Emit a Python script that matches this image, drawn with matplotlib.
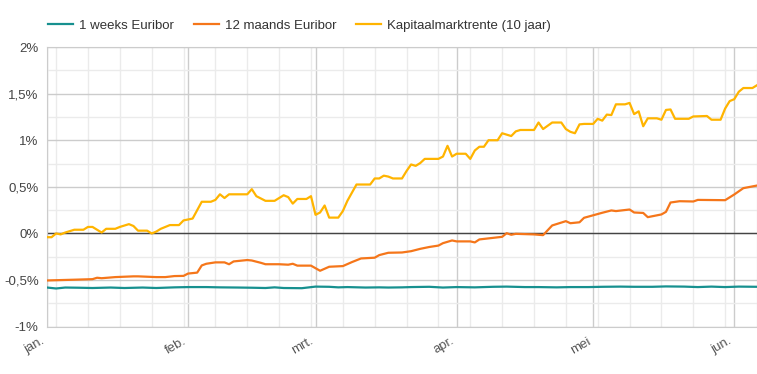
import numpy as np
import matplotlib
matplotlib.use("Agg")
import matplotlib.pyplot as plt
import matplotlib.dates as mdates
from matplotlib.ticker import MultipleLocator, FuncFormatter

plt.rcParams['font.family'] = ['Liberation Sans', 'DejaVu Sans']

START = np.datetime64('2022-01-01')

# Days since 1 January 2022 and rate in %
week_days = [0, 2, 4, 7, 10, 14, 17, 21, 24, 28, 31, 35, 38, 42, 45, 48, 50,
             52, 56, 59, 62, 64, 66, 70, 73, 75, 78, 80, 84, 87, 90, 94, 98,
             101, 105, 108, 112, 115, 119, 122, 126, 129, 133, 136, 140, 143,
             146, 149, 152, 156]
week_vals = [-0.58, -0.59, -0.58, -0.582, -0.585, -0.58, -0.585, -0.58,
             -0.585, -0.578, -0.575, -0.575, -0.578, -0.58, -0.582, -0.585,
             -0.578, -0.585, -0.587, -0.57, -0.572, -0.578, -0.575, -0.58,
             -0.578, -0.58, -0.578, -0.575, -0.572, -0.58, -0.575, -0.578,
             -0.572, -0.57, -0.575, -0.575, -0.578, -0.575, -0.575, -0.572,
             -0.57, -0.572, -0.572, -0.568, -0.57, -0.575, -0.57, -0.575,
             -0.57, -0.572]

m12_days = [0, 3, 6, 10, 11, 12, 15, 19, 20, 24, 26, 28, 30, 31, 33, 34, 35,
            37, 39, 40, 41, 44, 45, 47, 48, 51, 53, 54, 55, 58, 60, 62, 65,
            67, 69, 72, 73, 75, 78, 80, 82, 84, 86, 87, 89, 90, 93, 94, 95,
            100, 101, 102, 103, 107, 109, 111, 114, 115, 117, 118, 122, 124,
            125, 128, 129, 131, 132, 135, 136, 137, 139, 142, 143, 149, 151,
            153, 156]
m12_vals = [-0.504, -0.50, -0.496, -0.49, -0.475, -0.48, -0.468, -0.46,
            -0.46, -0.468, -0.468, -0.457, -0.455, -0.43, -0.42, -0.343,
            -0.325, -0.31, -0.31, -0.33, -0.30, -0.285, -0.29, -0.315, -0.33,
            -0.33, -0.335, -0.325, -0.345, -0.345, -0.40, -0.357, -0.35,
            -0.307, -0.268, -0.26, -0.232, -0.207, -0.204, -0.19, -0.165,
            -0.145, -0.13, -0.104, -0.075, -0.085, -0.085, -0.096, -0.064,
            -0.036, 0.003, -0.014, -0.004, -0.01, -0.018, 0.086, 0.132, 0.11,
            0.12, 0.168, 0.222, 0.247, 0.24, 0.257, 0.225, 0.22, 0.175,
            0.204, 0.232, 0.332, 0.346, 0.343, 0.36, 0.357, 0.418, 0.486,
            0.514]

cap_days = [0, 1, 2, 3, 4, 6, 8, 9, 10, 12, 13, 15, 16, 18, 19, 20, 22, 23,
            24, 25, 27, 29, 30, 32, 34, 36, 37, 38, 39, 40, 44, 45, 46, 48,
            50, 52, 53, 54, 55, 57, 58, 59, 60, 61, 62, 64, 65, 66, 68, 71,
            72, 73, 74, 75, 76, 78, 79, 80, 81, 82, 83, 86, 87, 88, 89, 90,
            92, 93, 94, 95, 96, 97, 99, 100, 102, 103, 104, 107, 108, 109,
            111, 113, 114, 115, 116, 117, 118, 120, 121, 122, 123, 124, 125,
            127, 128, 129, 130, 131, 132, 134, 135, 136, 137, 138, 141, 142,
            145, 146, 148, 149, 150, 151, 152, 153, 155, 156]
cap_vals = [-0.04, -0.04, 0.00, -0.01, 0.01, 0.04, 0.04, 0.07, 0.07, 0.01,
            0.05, 0.05, 0.07, 0.10, 0.08, 0.03, 0.03, 0.00, 0.02, 0.05, 0.09,
            0.09, 0.14, 0.16, 0.34, 0.34, 0.36, 0.42, 0.38, 0.42, 0.42, 0.475,
            0.40, 0.35, 0.35, 0.41, 0.39, 0.32, 0.37, 0.37, 0.40, 0.20, 0.225,
            0.30, 0.17, 0.17, 0.24, 0.35, 0.525, 0.525, 0.59, 0.59, 0.62,
            0.61, 0.59, 0.59, 0.67, 0.74, 0.725, 0.755, 0.80, 0.80, 0.825,
            0.94, 0.825, 0.855, 0.855, 0.80, 0.89, 0.93, 0.93, 1.00, 1.00,
            1.075, 1.045, 1.095, 1.11, 1.11, 1.19, 1.12, 1.19, 1.19, 1.12,
            1.09, 1.075, 1.17, 1.175, 1.175, 1.23, 1.21, 1.275, 1.27, 1.385,
            1.385, 1.40, 1.28, 1.31, 1.15, 1.235, 1.235, 1.22, 1.325, 1.33,
            1.23, 1.23, 1.255, 1.26, 1.22, 1.22, 1.34, 1.42, 1.44, 1.52,
            1.56, 1.56, 1.59]

series = [
    ("1 weeks Euribor", week_days, week_vals, "#17908f"),
    ("12 maands Euribor", m12_days, m12_vals, "#f5761a"),
    ("Kapitaalmarktrente (10 jaar)", cap_days, cap_vals, "#ffb400"),
]

month_starts = ['2022-01-01', '2022-02-01', '2022-03-01', '2022-04-01',
                '2022-05-01', '2022-06-01']
month_labels = ['jan.', 'feb.', 'mrt.', 'apr.', 'mei', 'jun.']

fig = plt.figure(figsize=(7.57, 3.74), dpi=100)
ax = fig.add_axes([47/757, 1 - 326.7/374, 1 - 47/757, (326.7 - 47)/374])

for name, days, vals, color in series:
    dates = START + np.array(days)
    ax.plot(dates, vals, color=color, lw=1.6, label=name, zorder=3)

ax.axhline(0, color='#444444', lw=1.0, zorder=2)

ax.set_ylim(-1, 2)
ax.set_xlim(START, START + 156)
ax.yaxis.set_major_locator(MultipleLocator(0.5))
ax.yaxis.set_minor_locator(MultipleLocator(0.25))
ax.yaxis.set_major_formatter(FuncFormatter(
    lambda v, p: ('%g%%' % v).replace('.', ',')))

ax.set_xticks([np.datetime64(d) for d in month_starts])
ax.set_xticklabels(month_labels, rotation=30, ha='right')
ax.xaxis.set_minor_locator(mdates.WeekdayLocator(byweekday=mdates.MO))

ax.grid(which='major', color='#cccccc', lw=1.0, zorder=0)
ax.grid(which='minor', color='#ebebeb', lw=1.0, zorder=0)
ax.tick_params(which='both', length=0)
ax.tick_params(axis='y', pad=6, labelsize=9.5, labelcolor='#444444')
ax.tick_params(axis='x', pad=6, labelsize=9.5, labelcolor='#555555')

for side in ['top', 'left', 'bottom']:
    ax.spines[side].set_color('#cccccc')
ax.spines['right'].set_visible(False)

fig.legend(loc='center left', bbox_to_anchor=(36/757, 1 - 26/374), ncol=3,
           frameon=False, fontsize=9.5, handlelength=1.9, handletextpad=0.45,
           columnspacing=1.5, labelcolor='#333333')

fig.savefig('out.png', dpi=100)
